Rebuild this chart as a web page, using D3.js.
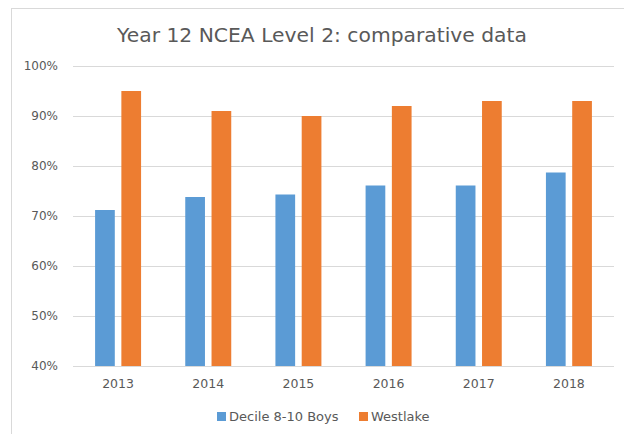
<!DOCTYPE html>
<html>
<head>
<meta charset="utf-8">
<script src="https://cdn.jsdelivr.net/npm/d3@7"></script>
<style>
  body { margin: 0; background: #fff; }
  text { font-family: "DejaVu Sans", Verdana, sans-serif; fill: #595959; }
</style>
</head>
<body>
<div id="chart"></div>
<script>
const years = ["2013", "2014", "2015", "2016", "2017", "2018"];
const seriesNames = ["Decile 8-10 Boys", "Westlake"];
const decileBoys = [71.2, 73.8, 74.3, 76.1, 76.1, 78.7];
const westlake = [95, 91, 90, 92, 93, 93];
const yTicks = [40, 50, 60, 70, 80, 90, 100];
const colors = ["#5B9BD5", "#ED7D31"];

const width = 624, height = 434;
const margin = { top: 66, right: 10, bottom: 68, left: 73 };
const plotRight = 614;

const svg = d3.select("#chart").append("svg")
  .attr("width", width)
  .attr("height", height);

// chart area border
svg.append("rect")
  .attr("x", 11.5).attr("y", 8.5)
  .attr("width", 640).attr("height", 440)
  .attr("fill", "none")
  .attr("stroke", "#D9D9D9");

svg.append("text")
  .attr("x", 322)
  .attr("y", 42)
  .attr("text-anchor", "middle")
  .attr("font-size", 20.3)
  .text("Year 12 NCEA Level 2: comparative data");

const x0 = d3.scaleBand()
  .domain(years)
  .range([margin.left, plotRight])
  .paddingInner(0.49)
  .paddingOuter(0.245);

const x1 = d3.scaleBand()
  .domain(seriesNames)
  .range([0, x0.bandwidth()])
  .paddingInner(0.25);

const y = d3.scaleLinear()
  .domain([40, 100])
  .range([height - margin.bottom, margin.top]);

// gridlines
svg.append("g")
  .selectAll("line")
  .data(yTicks)
  .join("line")
  .attr("x1", margin.left)
  .attr("x2", plotRight)
  .attr("y1", d => Math.round(y(d)) + 0.5)
  .attr("y2", d => Math.round(y(d)) + 0.5)
  .attr("stroke", "#D9D9D9")
  .attr("stroke-width", 1);

// y labels
svg.append("g")
  .selectAll("text")
  .data(yTicks)
  .join("text")
  .attr("x", 58)
  .attr("y", d => y(d))
  .attr("dy", "0.35em")
  .attr("text-anchor", "end")
  .attr("font-size", 12)
  .text(d => d + "%");

const rows = years.map((yr, i) => ({ year: yr, values: [decileBoys[i], westlake[i]] }));

const groups = svg.append("g")
  .selectAll("g")
  .data(rows)
  .join("g")
  .attr("transform", d => `translate(${x0(d.year)},0)`);

groups.selectAll("rect")
  .data(d => d.values.map((v, j) => ({ name: seriesNames[j], value: v, color: colors[j] })))
  .join("rect")
  .attr("x", d => x1(d.name))
  .attr("y", d => y(d.value))
  .attr("width", x1.bandwidth())
  .attr("height", d => y(40) - y(d.value))
  .attr("fill", d => d.color);

// x labels
svg.append("g")
  .selectAll("text")
  .data(years)
  .join("text")
  .attr("x", d => x0(d) + x0.bandwidth() / 2)
  .attr("y", 388)
  .attr("text-anchor", "middle")
  .attr("font-size", 12.5)
  .text(d => d);

// legend
const legendItems = [
  { name: seriesNames[0], color: colors[0], x: 217 },
  { name: seriesNames[1], color: colors[1], x: 359 }
];
const lg = svg.append("g")
  .selectAll("g")
  .data(legendItems)
  .join("g")
  .attr("transform", d => `translate(${d.x},411)`);

lg.append("rect")
  .attr("width", 9).attr("height", 9)
  .attr("y", 1)
  .attr("fill", d => d.color);

lg.append("text")
  .attr("x", 12)
  .attr("y", 5.5)
  .attr("dy", "0.35em")
  .attr("font-size", 13)
  .text(d => d.name);
</script>
</body>
</html>
